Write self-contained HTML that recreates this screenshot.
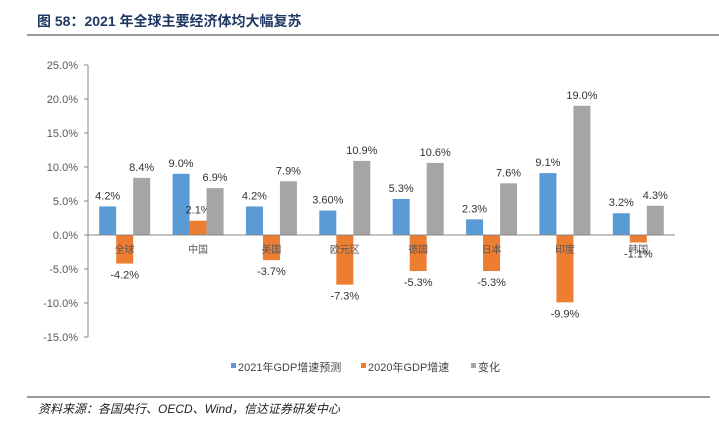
<!DOCTYPE html>
<html><head><meta charset="utf-8"><style>
body{margin:0;width:719px;height:434px;background:#fff;overflow:hidden;font-family:"Liberation Sans","Noto Sans CJK SC",sans-serif;}
svg{position:absolute;left:0;top:0}
</style></head><body>
<svg width="719" height="434">
<text x="37" y="26" font-size="14" font-weight="bold" fill="#1f3864">图  58：2021 年全球主要经济体均大幅复苏</text>
<line x1="27" y1="35" x2="719" y2="35" stroke="#333" stroke-width="1"/>
<g id="plot"></g>
<g font-size="11" fill="#444">
<rect x="231" y="363" width="5" height="5" fill="#5b9bd5"/>
<text x="238" y="371">2021年GDP增速预测</text>
<rect x="361" y="363" width="5" height="5" fill="#ed7d31"/>
<text x="368" y="371">2020年GDP增速</text>
<rect x="471" y="363" width="5" height="5" fill="#a5a5a5"/>
<text x="478" y="371">变化</text>
</g>
<line x1="27" y1="397" x2="710" y2="397" stroke="#333" stroke-width="1"/>
<text x="38" y="413" font-size="12" font-style="italic" fill="#222">资料来源：各国央行、OECD、Wind，信达证券研发中心</text>
</svg>
<script>
const categories=["全球","中国","美国","欧元区","德国","日本","印度","韩国"];
const forecast2021=[4.2,9.0,4.2,3.6,5.3,2.3,9.1,3.2];
const growth2020=[-4.2,2.1,-3.7,-7.3,-5.3,-5.3,-9.9,-1.1];
const change=[8.4,6.9,7.9,10.9,10.6,7.6,19.0,4.3];
const labels2021=["4.2%","9.0%","4.2%","3.60%","5.3%","2.3%","9.1%","3.2%"];
const labels2020=["-4.2%","2.1%","-3.7%","-7.3%","-5.3%","-5.3%","-9.9%","-1.1%"];
const labelsChange=["8.4%","6.9%","7.9%","10.9%","10.6%","7.6%","19.0%","4.3%"];
const yTicks=[25,20,15,10,5,0,-5,-10,-15];
const NS="http://www.w3.org/2000/svg";
const g=document.getElementById('plot');
const x0=88,x1=675,yTop=65,yBot=337,vMax=25,vMin=-15;
const y=v=>yTop+(vMax-v)/(vMax-vMin)*(yBot-yTop);
const band=(x1-x0)/categories.length;
const cx=i=>x0+band*(i+0.5);
const bw=17;
function el(t,a){const e=document.createElementNS(NS,t);for(const k in a)e.setAttribute(k,a[k]);g.appendChild(e);return e;}
const ax=el('line',{x1:x0,y1:yTop,x2:x0,y2:yBot,stroke:'#888'});


yTicks.forEach(v=>{
 const t=el('line',{x1:x0-4,y1:y(v),x2:x0,y2:y(v),stroke:'#888'});
 
 
 const l=el('text',{x:x0-10,y:y(v)+4,'font-size':11,fill:'#595959','text-anchor':'end'});
 l.textContent=v.toFixed(1)+'%';
 
 
});
const series=[[forecast2021,labels2021,'#5b9bd5','bar-2021'],[growth2020,labels2020,'#ed7d31','bar-2020'],[change,labelsChange,'#a5a5a5','bar-change']];
categories.forEach((c,i)=>{
 series.forEach((s,j)=>{
  const v=s[0][i];const bx=cx(i)+(j-1.5)*bw;
  const r=el('rect',{x:bx,y:Math.min(y(v),y(0)),width:bw,height:Math.abs(y(v)-y(0)),fill:s[2]});
  
  
  const ty=v>=0?y(v)-7:y(v)+15;
  const t=el('text',{x:bx+bw/2,y:ty,'font-size':11,fill:'#333','text-anchor':'middle'});
  t.textContent=s[1][i];
  
  
 });
 const cl=el('text',{x:cx(i),y:y(0)+18,'font-size':10,fill:'#595959','text-anchor':'middle'});
 cl.textContent=c;
 
 
});
const zl=el('line',{x1:x0,y1:y(0),x2:x1,y2:y(0),stroke:'#888'});


</script>
</body></html>
